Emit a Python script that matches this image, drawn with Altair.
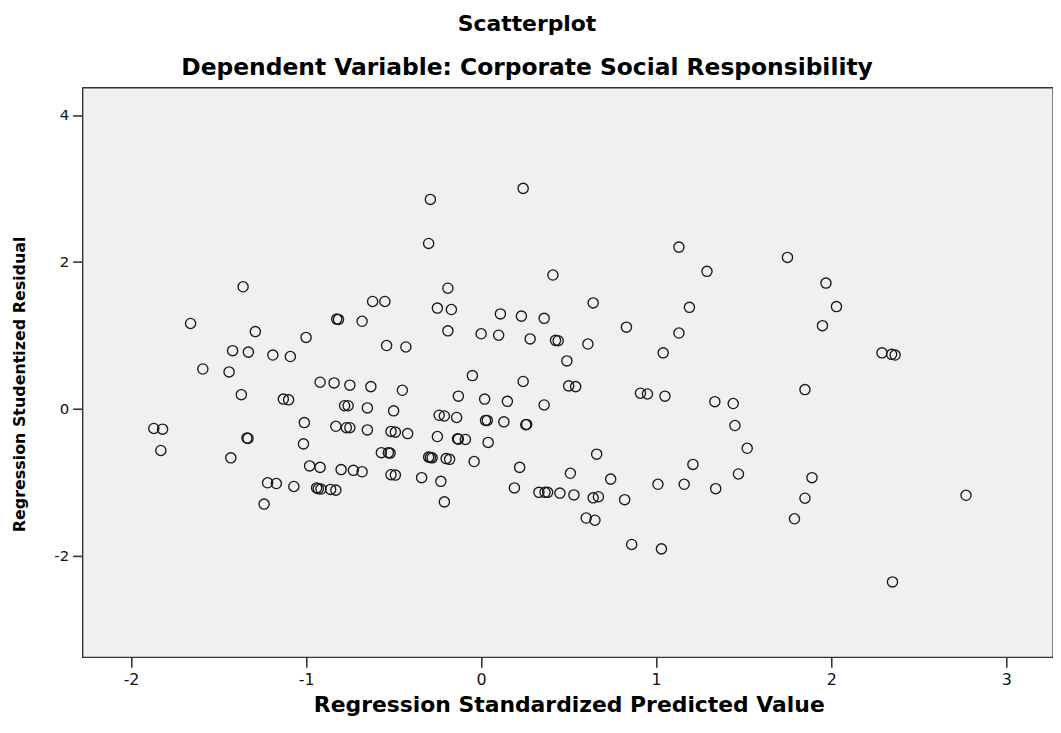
import altair as alt
import pandas as pd

x_vals = [-1.36, -1.66, -1.29, -1.42, -1.33, -1.19, -1.09, -1.59, -1.44, -1.00,
          -0.825, -0.815, -0.68, -0.62, -0.55, -0.54, -0.43, -0.29, 0.24, -0.30,
          1.13, 1.29, 0.41, -0.19, 0.64, 1.19, -0.25, -0.17, 0.11, 0.23,
          0.36, 0.83, -0.19, 1.13, 0.00, 0.10, 0.28, 0.425, 0.44, 0.61,
          1.04, 0.49, 1.75, 1.97, 2.03, 1.95, 2.29, 2.345, 2.365, -1.37,
          -1.13, -1.10, -0.92, -0.84, -0.75, -0.63, -0.45, -0.78, -0.76, -0.65,
          -0.50, -1.87, -1.82, -1.01, -0.83, -0.77, -0.75, -0.65, -0.515, -0.49,
          -0.42, -1.338, -1.332, -1.83, -1.015, -0.57, -0.53, -0.52, -1.43, -0.98,
          -0.92, -0.80, -0.73, -0.68, -0.515, -0.49, -1.22, -1.17, -1.07, -0.94,
          -0.93, -0.915, -0.86, -0.83, -1.24, -0.05, 0.24, -0.13, 0.02, 0.15,
          0.50, 0.54, 0.91, 0.95, 1.05, 1.335, 0.36, -0.24, -0.21, -0.14,
          0.025, 0.035, 0.13, 0.255, 0.26, -0.25, -0.135, -0.13, -0.09, 0.04,
          -0.30, -0.29, -0.28, -0.20, -0.18, -0.04, 0.66, 1.21, 0.22, 0.51,
          0.74, -0.34, -0.23, 0.19, 0.33, 0.365, 0.38, 0.45, 0.53, 0.64,
          0.67, 0.82, 1.01, 1.16, 1.34, -0.21, 0.60, 0.65, 0.86, 1.03,
          1.85, 1.44, 1.45, 1.52, 1.47, 1.89, 1.85, 1.79, 2.77, 2.35]

y_vals = [1.66, 1.16, 1.05, 0.79, 0.77, 0.73, 0.71, 0.54, 0.50, 0.97,
          1.22, 1.215, 1.19, 1.46, 1.46, 0.86, 0.84, 2.85, 3.00, 2.25,
          2.20, 1.87, 1.82, 1.64, 1.44, 1.38, 1.37, 1.35, 1.29, 1.26,
          1.23, 1.11, 1.06, 1.03, 1.02, 1.00, 0.95, 0.93, 0.925, 0.88,
          0.76, 0.65, 2.06, 1.71, 1.39, 1.13, 0.76, 0.74, 0.73, 0.19,
          0.13, 0.12, 0.36, 0.35, 0.32, 0.30, 0.25, 0.04, 0.04, 0.01,
          -0.03, -0.27, -0.28, -0.19, -0.24, -0.26, -0.26, -0.29, -0.31, -0.32,
          -0.34, -0.40, -0.405, -0.57, -0.48, -0.60, -0.60, -0.605, -0.67, -0.78,
          -0.80, -0.83, -0.84, -0.86, -0.90, -0.905, -1.01, -1.02, -1.06, -1.08,
          -1.09, -1.095, -1.10, -1.11, -1.30, 0.45, 0.37, 0.17, 0.13, 0.10,
          0.31, 0.30, 0.21, 0.20, 0.17, 0.095, 0.05, -0.09, -0.10, -0.12,
          -0.16, -0.16, -0.18, -0.22, -0.215, -0.38, -0.41, -0.415, -0.42, -0.46,
          -0.66, -0.665, -0.67, -0.68, -0.69, -0.72, -0.62, -0.76, -0.80, -0.88,
          -0.96, -0.94, -0.99, -1.08, -1.14, -1.14, -1.14, -1.15, -1.175, -1.215,
          -1.20, -1.24, -1.03, -1.03, -1.09, -1.27, -1.49, -1.52, -1.85, -1.91,
          0.26, 0.07, -0.23, -0.54, -0.89, -0.94, -1.22, -1.50, -1.18, -2.36]

x_ticks = [-2, -1, 0, 1, 2, 3]
y_ticks = [-2, 0, 2, 4]

df = pd.DataFrame({"pred": x_vals, "resid": y_vals})

chart = alt.Chart(df).mark_point(
    shape="circle", filled=False, size=105, strokeWidth=1.35, color="#1a1a1a", opacity=1
).encode(
    x=alt.X("pred:Q",
            scale=alt.Scale(domain=[-2.277, 3.267], nice=False, zero=False),
            axis=alt.Axis(values=x_ticks, title="Regression Standardized Predicted Value",
                          labelExpr="'' + datum.value", labelFontSize=16, labelPadding=4,
                          titleFontSize=22, titleX=489, titleY=48,
                          titleBaseline="middle", titleAlign="center")),
    y=alt.Y("resid:Q",
            scale=alt.Scale(domain=[-3.387, 4.373], nice=False, zero=False),
            axis=alt.Axis(values=y_ticks, title="Regression Studentized Residual",
                          labelExpr="'' + datum.value", labelFontSize=15, labelPadding=4,
                          titleFontSize=16, titleX=-63, titleY=298, titleAngle=270,
                          titleBaseline="middle", titleAlign="center")),
).properties(
    width=976,
    height=573,
    title=alt.TitleParams(
        text="Scatterplot",
        subtitle="Dependent Variable: Corporate Social Responsibility",
        font="DejaVu Sans", fontWeight="bold", fontSize=22, color="black",
        subtitleFont="DejaVu Sans", subtitleFontWeight="bold", subtitleFontSize=23.5,
        subtitleColor="black", subtitlePadding=20,
        anchor="middle", frame="group", dx=-41, offset=7,
    ),
    autosize=alt.AutoSizeParams(type="none"),
    padding={"left": 75, "top": 78, "right": 0, "bottom": 60},
).configure(
    background="white",
).configure_view(
    fill="#F0F0F0", stroke="#333333", strokeWidth=1.4,
).configure_axis(
    domain=False, grid=False, tickColor="#333333", tickWidth=1.6, tickSize=10,
    labelFont="DejaVu Sans", labelColor="#111111",
    titleFont="DejaVu Sans", titleFontWeight="bold", titleColor="black",
)

chart.save("out.html", embed_options={"renderer": "svg", "actions": False})
